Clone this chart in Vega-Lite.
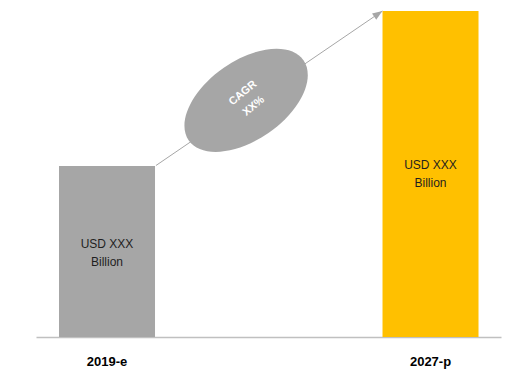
{
  "$schema": "https://vega.github.io/schema/vega-lite/v6.json",
  "autosize": {"type": "none"},
  "width": 465,
  "height": 326,
  "padding": {"left": 36, "top": 11, "right": 15, "bottom": 47},
  "background": "white",
  "config": {"view": {"stroke": null}, "font": "Liberation Sans"},
  "datasets": {
    "bars": [
      {"year": 2019, "period": "2019-e", "value": 52.45, "mid": 28.5, "note": "USD XXX\nBillion"},
      {"year": 2027, "period": "2027-p", "value": 100, "mid": 52.7, "note": "USD XXX\nBillion"}
    ],
    "arrow": [
      {"year": 2020.21, "value": 52.6, "end_year": 2025.81, "end_value": 100}
    ],
    "cagr": [
      {"year": 2022.44, "value": 72.6, "text": "CAGR\nXX%", "text_year": 2022.36, "text_value": 74.8}
    ]
  },
  "layer": [
    {
      "data": {"name": "bars"},
      "mark": {"type": "bar", "width": 96},
      "encoding": {
        "x": {"field": "year", "type": "quantitative", "scale": {"domain": [2017.244, 2028.743], "nice": false, "zero": false, "padding": 0},
          "axis": {"labels": false, "ticks": false, "grid": false, "title": null, "domainColor": "#c0c0c0", "domainWidth": 1.5, "values": [2019, 2027]}},
        "y": {"field": "value", "type": "quantitative", "scale": {"domain": [0, 100], "nice": false, "padding": 0}, "axis": null},
        "color": {"field": "period", "type": "nominal", "scale": {"domain": ["2019-e", "2027-p"], "range": ["#a6a6a6", "#ffc000"]}, "legend": null}
      }
    },
    {
      "data": {"name": "bars"},
      "mark": {"type": "text", "fontSize": 12, "color": "#1f1f1f", "lineBreak": "\n", "lineHeight": 18, "align": "center", "baseline": "middle"},
      "encoding": {
        "x": {"field": "year", "type": "quantitative"},
        "y": {"field": "mid", "type": "quantitative"},
        "text": {"field": "note"}
      }
    },
    {
      "data": {"name": "bars"},
      "mark": {"type": "text", "fontSize": 13, "fontWeight": "bold", "color": "#000000", "align": "center", "baseline": "middle"},
      "encoding": {
        "x": {"field": "year", "type": "quantitative"},
        "y": {"datum": -7.7},
        "text": {"field": "period"}
      }
    },
    {
      "data": {"name": "arrow"},
      "mark": {"type": "rule", "color": "#a6a6a6", "strokeWidth": 1},
      "encoding": {
        "x": {"field": "year", "type": "quantitative"},
        "y": {"field": "value", "type": "quantitative"},
        "x2": {"field": "end_year"},
        "y2": {"field": "end_value"}
      }
    },
    {
      "data": {"name": "arrow"},
      "mark": {"type": "point", "shape": "M 0 0 L -2 -0.75 L -2 0.75 Z", "size": 100, "filled": true, "opacity": 1, "color": "#a6a6a6", "angle": -34.3},
      "encoding": {
        "x": {"field": "end_year", "type": "quantitative"},
        "y": {"field": "end_value", "type": "quantitative"}
      }
    },
    {
      "data": {"name": "cagr"},
      "mark": {"type": "point", "shape": "M -1 0 C -1 -0.312 -0.552 -0.565 0 -0.565 C 0.552 -0.565 1 -0.312 1 0 C 1 0.312 0.552 0.565 0 0.565 C -0.552 0.565 -1 0.312 -1 0 Z", "size": 19600, "filled": true, "opacity": 1, "color": "#a6a6a6", "angle": -35},
      "encoding": {
        "x": {"field": "year", "type": "quantitative"},
        "y": {"field": "value", "type": "quantitative"}
      }
    },
    {
      "data": {"name": "cagr"},
      "mark": {"type": "text", "fontSize": 11, "fontWeight": "bold", "color": "#ffffff", "lineBreak": "\n", "lineHeight": 17, "align": "center", "baseline": "middle", "angle": -40},
      "encoding": {
        "x": {"field": "text_year", "type": "quantitative"},
        "y": {"field": "text_value", "type": "quantitative"},
        "text": {"field": "text"}
      }
    }
  ]
}
